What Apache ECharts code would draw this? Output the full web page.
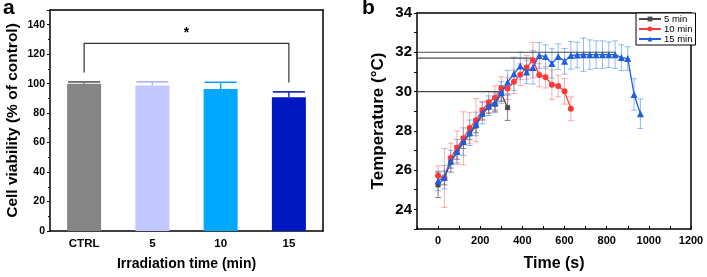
<!DOCTYPE html>
<html>
<head>
<meta charset="utf-8">
<script src="https://cdn.jsdelivr.net/npm/echarts@6/dist/echarts.min.js"></script>
<style>
  html, body { margin: 0; padding: 0; background: #fff; }
  #chart { width: 707px; height: 277px; }
</style>
</head>
<body>
<div id="chart"></div>
<script>
// panel a: cell viability
const groupsA = ["CTRL", "5", "10", "15"];
const viability = [100, 98.8, 96.3, 90.8];
const viabilityErr = [1.2, 2.4, 4.7, 3.6];
// significance bracket: [from, to, bracket height, left foot, right foot]
const bracket = [[0, 3, 127.3, 107.6, 100.8]];

// panel b: temperature vs time
const time5 = [0, 30, 60, 90, 120, 150, 180, 210, 240, 270, 300, 330];
const temp5 = [25.25, 25.6, 26.4, 26.9, 27.4, 27.85, 28.25, 28.85, 29.2, 29.35, 29.9, 29.18];
const err5 = [0.65, 0.35, 0.3, 0.35, 0.3, 0.3, 0.35, 0.3, 0.3, 0.35, 0.4, 0.65];

const time10 = [0, 30, 60, 90, 120, 150, 180, 210, 240, 270, 300, 330, 360, 390, 420, 450,
  480, 510, 540, 570, 600, 630];
const temp10 = [25.71, 25.6, 26.62, 27.14, 27.62, 28.14, 28.54, 29.05, 29.46, 29.68, 30.15, 30.15,
  30.5, 30.86, 31.23, 31.6, 30.84, 30.73, 30.35, 30.28, 30.01, 29.13];
const err10 = [0.5, 1.5, 0.75, 0.85, 1.35, 0.8, 1.1, 0.45, 0.55, 0.6, 0.6, 0.55, 0.6, 0.55, 0.6,
  0.9, 0.6, 0.55, 0.75, 0.55, 0.65, 0.6];

const time15 = [0, 30, 60, 90, 120, 150, 180, 210, 240, 270, 300, 330, 360, 390, 420, 450,
  480, 510, 540, 570, 600, 630, 660, 690, 720, 750, 780, 810, 840, 870, 900, 930, 960];
const temp15 = [25.45, 25.64, 26.46, 26.96, 27.45, 27.9, 28.35, 28.9, 29.28, 29.43, 29.95, 30.48,
  30.9, 31.3, 31.0, 31.23, 31.84, 31.78, 31.43, 31.78, 31.54, 31.84, 31.86, 31.88, 31.88, 31.88,
  31.88, 31.88, 31.88, 31.73, 31.68, 29.85, 28.87];
const err15 = [0.5, 0.6, 0.55, 0.6, 0.7, 0.65, 0.6, 0.55, 0.5, 0.5, 0.55, 0.6, 0.85, 0.7, 0.6,
  0.85, 0.65, 0.6, 0.75, 0.65, 0.65, 0.7, 0.65, 0.85, 0.75, 0.7, 0.7, 0.65, 0.7, 0.65, 0.6, 0.8, 0.75];

// horizontal guide lines: level and where they end
const guideLevels = [30, 31.7, 32];
const guideEnds = [300, 450, 840];
const guideStart = -100;

const FONT = "'Liberation Sans', Arial, sans-serif";
const barColors = ["#858585", "#c0c8ff", "#00a8ff", "#0018c0"];
const errColorsA = ["#6a6a6a", "#b0baff", "#00a0ff", "#1a2ccc"];

const pair = (xs, ys) => xs.map((x, i) => [x, ys[i]]);

function errBars(times, temps, errs, color) {
  return {
    type: "custom",
    xAxisIndex: 1,
    yAxisIndex: 1,
    silent: true,
    z: 1,
    data: times.map((t, i) => [t, temps[i] - errs[i], temps[i] + errs[i]]),
    encode: { x: 0, y: [1, 2] },
    renderItem(params, api) {
      const lo = api.coord([api.value(0), api.value(1)]);
      const hi = api.coord([api.value(0), api.value(2)]);
      const w = 3;
      const st = { stroke: color, lineWidth: 1 };
      return {
        type: "group",
        children: [
          { type: "line", shape: { x1: lo[0], y1: lo[1], x2: hi[0], y2: hi[1] }, style: st },
          { type: "line", shape: { x1: lo[0] - w, y1: lo[1], x2: lo[0] + w, y2: lo[1] }, style: st },
          { type: "line", shape: { x1: hi[0] - w, y1: hi[1], x2: hi[0] + w, y2: hi[1] }, style: st },
        ],
      };
    },
  };
}

function lineSeries(name, times, temps, color, symbol, size, z) {
  return {
    name: name,
    type: "line",
    xAxisIndex: 1,
    yAxisIndex: 1,
    data: pair(times, temps),
    symbol: symbol,
    symbolSize: size,
    color: color,
    lineStyle: { width: 1.3, color: color },
    itemStyle: { color: color },
    z: z,
  };
}

const guideSeries = guideLevels.map((lv, i) => ({
  type: "line",
  xAxisIndex: 1,
  yAxisIndex: 1,
  silent: true,
  symbol: "none",
  data: [[guideStart, lv], [guideEnds[i], lv]],
  lineStyle: { color: "#4a4a4a", width: 1.2 },
  z: 1,
}));

// plain frame axes for the top and right edges of each box
const frameLine = { show: true, onZero: false, lineStyle: { color: "#000", width: 1.5 } };
const frameX = (grid, pos) => ({
  type: "value", gridIndex: grid, position: pos, min: 0, max: 1,
  axisLine: frameLine, axisTick: { show: false }, axisLabel: { show: false }, splitLine: { show: false },
});

const chart = echarts.init(document.getElementById("chart"));
const option = {
  animation: false,
  textStyle: { fontFamily: FONT },
  graphic: [
    { type: "text", left: 3, top: -2, style: { text: "a", font: "bold 21px " + FONT, fill: "#000" } },
    { type: "text", left: 362, top: -2, style: { text: "b", font: "bold 21px " + FONT, fill: "#000" } },
  ],
  legend: {
    data: ["5 min", "10 min", "15 min"],
    orient: "vertical",
    left: 636,
    top: 13,
    itemWidth: 22,
    itemHeight: 6,
    itemGap: 0,
    padding: [1, 3, 1, 2],
    borderColor: "#000",
    borderWidth: 1,
    borderRadius: 0,
    backgroundColor: "#fff",
    textStyle: { fontSize: 9.5, color: "#000", fontFamily: FONT, padding: [0, 0, 0, -2] },
  },
  grid: [
    { left: 50, top: 10, width: 273, height: 221 },
    { left: 417, top: 13, width: 274, height: 220 },
  ],
  xAxis: [
    {
      type: "category",
      gridIndex: 0,
      data: groupsA,
      axisLine: { lineStyle: { color: "#000", width: 1.5 } },
      axisTick: { show: false },
      axisLabel: { color: "#000", fontWeight: "bold", fontSize: 11.5, margin: 7 },
      name: "Irradiation time (min)",
      nameLocation: "middle",
      nameGap: 26,
      nameTextStyle: { color: "#000", fontWeight: "bold", fontSize: 14 },
    },
    {
      type: "value",
      gridIndex: 1,
      min: -100,
      max: 1200,
      interval: 100,
      axisLine: { onZero: false, lineStyle: { color: "#000", width: 1.5 } },
      axisTick: { inside: true, length: 3, lineStyle: { color: "#000" } },
      splitLine: { show: false },
      axisLabel: {
        color: "#000",
        fontWeight: "bold",
        fontSize: 11,
        margin: 6,
        formatter: (v) => (v >= 0 && v % 200 === 0 ? String(v) : ""),
      },
      name: "Time (s)",
      nameLocation: "middle",
      nameGap: 27,
      nameTextStyle: { color: "#000", fontWeight: "bold", fontSize: 16 },
    },
    frameX(0, "top"),
    frameX(1, "top"),
  ],
  yAxis: [
    {
      type: "value",
      gridIndex: 0,
      min: 0,
      max: 150,
      interval: 20,
      axisLine: { show: true, lineStyle: { color: "#000", width: 1.5 } },
      axisTick: { show: true, length: 3, lineStyle: { color: "#000" } },
      minorTick: { show: true, splitNumber: 2, length: 2, lineStyle: { color: "#000" } },
      splitLine: { show: false },
      axisLabel: { color: "#000", fontWeight: "bold", fontSize: 10.5, margin: 5, showMaxLabel: false },
      name: "Cell viability (% of control)",
      nameLocation: "middle",
      nameGap: 29,
      nameTextStyle: { color: "#000", fontWeight: "bold", fontSize: 15.5 },
    },
    {
      type: "value",
      gridIndex: 1,
      min: 23,
      max: 34,
      interval: 1,
      axisLine: { show: true, onZero: false, lineStyle: { color: "#000", width: 1.5 } },
      axisTick: { show: true, length: 3, lineStyle: { color: "#000" } },
      splitLine: { show: false },
      axisLabel: {
        color: "#000",
        fontWeight: "bold",
        fontSize: 15,
        margin: 5,
        formatter: (v) => (v % 2 === 0 ? String(v) : ""),
      },
      name: "Temperature (°C)",
      nameLocation: "middle",
      nameGap: 30,
      nameTextStyle: { color: "#000", fontWeight: "bold", fontSize: 17 },
    },
    frameX(0, "right"),
    frameX(1, "right"),
  ],
  series: [
    {
      type: "bar",
      xAxisIndex: 0,
      yAxisIndex: 0,
      barWidth: 34,
      silent: true,
      data: viability.map((v, i) => ({ value: v, itemStyle: { color: barColors[i] } })),
    },
    {
      type: "custom",
      xAxisIndex: 0,
      yAxisIndex: 0,
      silent: true,
      z: 3,
      data: viability.map((v, i) => [i, v, v + viabilityErr[i]]),
      encode: { x: 0, y: [1, 2] },
      renderItem(params, api) {
        const lo = api.coord([api.value(0), api.value(1)]);
        const hi = api.coord([api.value(0), api.value(2)]);
        const c = errColorsA[params.dataIndex];
        const w = 16;
        return {
          type: "group",
          children: [
            { type: "line", shape: { x1: lo[0], y1: lo[1], x2: hi[0], y2: hi[1] }, style: { stroke: c, lineWidth: 1.5 } },
            { type: "line", shape: { x1: hi[0] - w, y1: hi[1], x2: hi[0] + w, y2: hi[1] }, style: { stroke: c, lineWidth: 1.6 } },
          ],
        };
      },
    },
    {
      type: "custom",
      xAxisIndex: 0,
      yAxisIndex: 0,
      silent: true,
      z: 3,
      data: bracket,
      encode: { x: [0, 1], y: [2, 3, 4] },
      renderItem(params, api) {
        const a = api.coord([api.value(0), api.value(3)]);
        const b = api.coord([api.value(0), api.value(2)]);
        const c = api.coord([api.value(1), api.value(2)]);
        const d = api.coord([api.value(1), api.value(4)]);
        return {
          type: "group",
          children: [
            {
              type: "polyline",
              shape: { points: [a, b, c, d] },
              style: { stroke: "#333", lineWidth: 1.2, fill: null },
            },
            {
              type: "text",
              x: (b[0] + c[0]) / 2,
              y: b[1] - 3,
              style: { text: "*", font: "bold 14px " + FONT, fill: "#000", align: "center", verticalAlign: "bottom" },
            },
          ],
        };
      },
    },
    ...guideSeries,
    errBars(time5, temp5, err5, "rgba(90,90,90,0.75)"),
    errBars(time10, temp10, err10, "rgba(255,90,90,0.5)"),
    errBars(time15, temp15, err15, "rgba(40,120,230,0.5)"),
    lineSeries("5 min", time5, temp5, "#4a4a4a", "rect", 5, 4),
    lineSeries("10 min", time10, temp10, "#ff3838", "circle", 6, 5),
    lineSeries("15 min", time15, temp15, "#1f5fdc", "triangle", 7, 6),
  ],
};
chart.setOption(option);
</script>
</body>
</html>
